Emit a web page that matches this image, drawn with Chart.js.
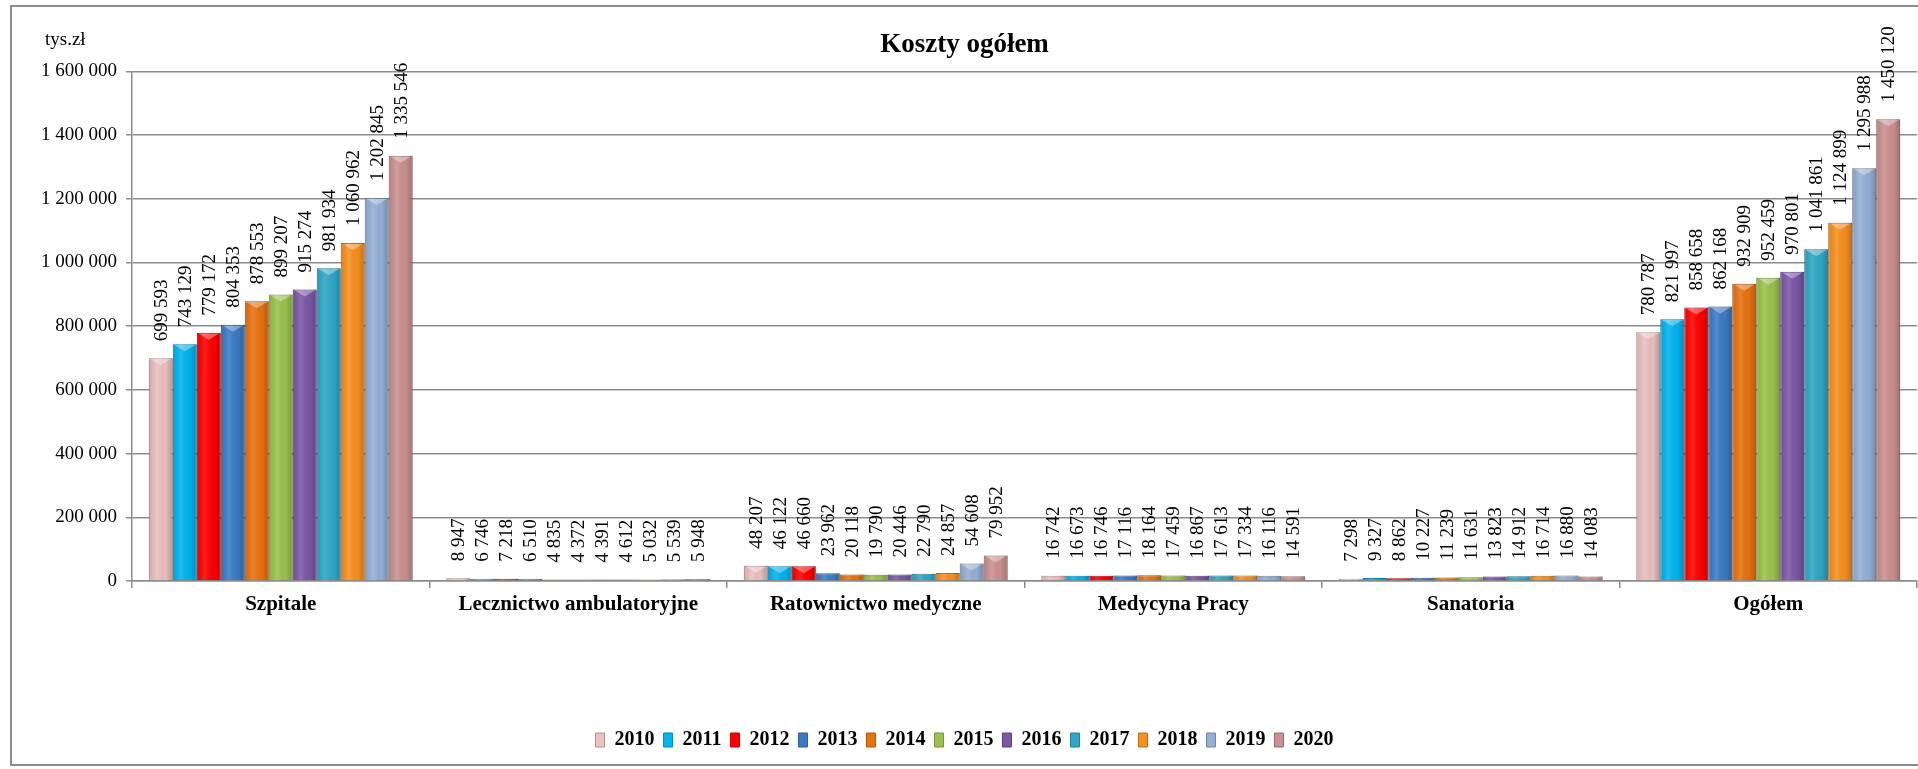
<!DOCTYPE html>
<html>
<head>
<meta charset="utf-8">
<title>Koszty ogółem</title>
<script src="https://cdn.jsdelivr.net/npm/chart.js@4/dist/chart.umd.min.js"></script>
<style>
  html, body { margin: 0; padding: 0; background: #fff; }
  #wrap { position: relative; width: 1918px; height: 769px; overflow: hidden; }
</style>
</head>
<body>
<div id="wrap"><canvas id="chart" width="1918" height="769"></canvas></div>
<script>
// kategorie i lata
const categories = ['Szpitale', 'Lecznictwo ambulatoryjne', 'Ratownictwo medyczne', 'Medycyna Pracy', 'Sanatoria', 'Ogółem'];
const years = ['2010', '2011', '2012', '2013', '2014', '2015', '2016', '2017', '2018', '2019', '2020'];

// wartości (tys. zł), kolejno lata 2010-2020
const szpitale = [699593, 743129, 779172, 804353, 878553, 899207, 915274, 981934, 1060962, 1202845, 1335546];
const lecznictwo = [8947, 6746, 7218, 6510, 4835, 4372, 4391, 4612, 5032, 5539, 5948];
const ratownictwo = [48207, 46122, 46660, 23962, 20118, 19790, 20446, 22790, 24857, 54608, 79952];
const medycyna = [16742, 16673, 16746, 17116, 18164, 17459, 16867, 17613, 17334, 16116, 14591];
const sanatoria = [7298, 9327, 8862, 10227, 11239, 11631, 13823, 14912, 16714, 16880, 14083];
const ogolem = [780787, 821997, 858658, 862168, 932909, 952459, 970801, 1041861, 1124899, 1295988, 1450120];

const yTicks = [0, 200000, 400000, 600000, 800000, 1000000, 1200000, 1400000, 1600000];

const colors = ['#ebc0c0', '#00b4ef', '#ff0000', '#3b7bc6', '#e8720f', '#9cc24c', '#7b57a6', '#2fa8c8', '#f7901e', '#95afd6', '#cc9090'];
const borders = ['#b89090', '#0088b8', '#c00000', '#2a5a95', '#b0560a', '#74923a', '#5a3f7c', '#217e97', '#b86c16', '#6f83a0', '#9a6b6b'];

const FONT = '"Liberation Serif", "Times New Roman", serif';

function fmt(v) {
  return String(v).replace(/\B(?=(\d{3})+(?!\d))/g, ' ');
}

const rows = [szpitale, lecznictwo, ratownictwo, medycyna, sanatoria, ogolem];
const datasets = years.map((y, i) => ({
  label: y,
  data: rows.map(r => r[i]),
  backgroundColor: colors[i],
  borderColor: borders[i],
  borderWidth: 1,
  categoryPercentage: 0.887,
  barPercentage: 1
}));

// cieniowanie słupków (efekt 3D) i etykiety wartości obrócone pionowo
const valueLabels = {
  id: 'valueLabels',
  afterDatasetsDraw(chart) {
    const ctx = chart.ctx;
    ctx.save();
    chart.data.datasets.forEach((ds, di) => {
      chart.getDatasetMeta(di).data.forEach(bar => {
        const w = bar.width, left = bar.x - w / 2, h = bar.base - bar.y;
        if (h < 1) return;
        const g = ctx.createLinearGradient(left, 0, left + w, 0);
        g.addColorStop(0, 'rgba(0,0,0,0.10)');
        g.addColorStop(0.35, 'rgba(255,255,255,0.12)');
        g.addColorStop(0.7, 'rgba(0,0,0,0.02)');
        g.addColorStop(1, 'rgba(0,0,0,0.22)');
        ctx.fillStyle = g;
        ctx.fillRect(left, bar.y, w, h);
        if (h > 8) {
          ctx.fillStyle = 'rgba(255,255,255,0.35)';
          ctx.beginPath();
          ctx.moveTo(left + 2, bar.y + 1);
          ctx.lineTo(left + w - 2, bar.y + 1);
          ctx.lineTo(bar.x, bar.y + Math.min(7, h / 2));
          ctx.closePath();
          ctx.fill();
        }
      });
    });
    ctx.font = '19px ' + FONT;
    ctx.fillStyle = '#000';
    ctx.textAlign = 'left';
    ctx.textBaseline = 'middle';
    chart.data.datasets.forEach((ds, di) => {
      chart.getDatasetMeta(di).data.forEach((bar, i) => {
        ctx.save();
        ctx.translate(bar.x, bar.y - 17);
        ctx.rotate(-Math.PI / 2);
        ctx.fillText(fmt(ds.data[i]), 0, 1);
        ctx.restore();
      });
    });
    ctx.restore();
  }
};

// ramka wykresu i jednostka
const frame = {
  id: 'frame',
  afterDraw(chart) {
    const ctx = chart.ctx;
    ctx.save();
    ctx.strokeStyle = '#8c8c8c';
    ctx.lineWidth = 2;
    ctx.strokeRect(11, 6, 1930, 759);
    ctx.font = '19px ' + FONT;
    ctx.fillStyle = '#000';
    ctx.textBaseline = 'middle';
    ctx.fillText('tys.zł', 45, 40);
    ctx.restore();
  }
};

Chart.defaults.font.family = FONT;
Chart.defaults.color = '#000';

new Chart(document.getElementById('chart'), {
  type: 'bar',
  data: { labels: categories, datasets: datasets },
  options: {
    responsive: false,
    animation: false,
    devicePixelRatio: 1,
    layout: { padding: { left: 12, right: 1, top: 0, bottom: 9 } },
    plugins: {
      title: {
        display: true,
        text: 'Koszty ogółem',
        font: { size: 27, weight: 'bold', family: FONT },
        color: '#000',
        padding: { top: 29, bottom: 10 }
      },
      legend: {
        position: 'bottom',
        labels: {
          boxWidth: 9,
          boxHeight: 14,
          padding: 9,
          font: { size: 20, weight: 'bold', family: FONT },
          color: '#000'
        }
      },
      tooltip: { enabled: false }
    },
    scales: {
      x: {
        grid: { drawOnChartArea: false, drawTicks: true, tickLength: 7, color: '#8c8c8c', lineWidth: 1.5 },
        border: { color: '#8c8c8c', width: 1.5 },
        ticks: { font: { size: 21, weight: 'bold', family: FONT }, color: '#000', padding: 4, maxRotation: 0 },
        afterFit(scale) { scale.height = 140; }
      },
      y: {
        min: 0,
        max: 1600000,
        afterBuildTicks(scale) { scale.ticks = yTicks.map(v => ({ value: v })); },
        grid: { color: '#8c8c8c', lineWidth: 1.5, tickLength: 6 },
        border: { color: '#8c8c8c', width: 1.5 },
        ticks: { font: { size: 19, family: FONT }, color: '#000', padding: 9, callback: v => fmt(v) },
        afterFit(scale) { scale.width = 120; }
      }
    }
  },
  plugins: [valueLabels, frame]
});
</script>
</body>
</html>
